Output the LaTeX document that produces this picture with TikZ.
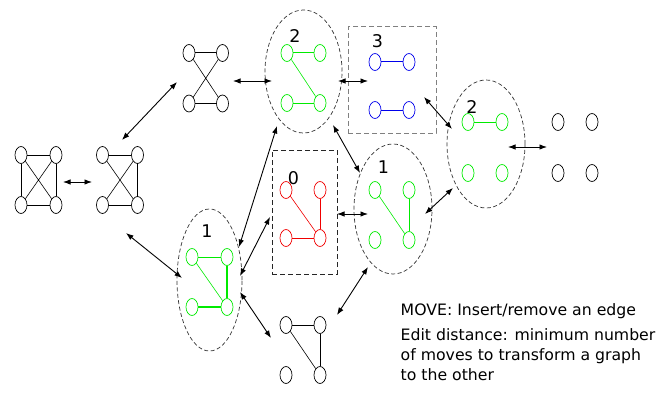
\documentclass[tikz,border=0pt]{standalone}
\usepackage{fontspec}
\setmainfont{DejaVu Sans}
\usetikzlibrary{shapes.geometric,arrows.meta}
\definecolor{vgreen}{RGB}{0,235,0}
\definecolor{vred}{RGB}{240,0,0}
\definecolor{vblue}{RGB}{0,0,235}
\begin{document}
\begin{tikzpicture}[x=1pt,y=-1pt,
  vtx/.style={ellipse,draw,line width=0.7pt,minimum width=12pt,minimum height=17pt,inner sep=0pt},
  gv/.style={vtx,draw=vgreen},
  rv/.style={vtx,draw=vred},
  bv/.style={vtx,draw=vblue},
  edge/.style={line width=1pt},
  thin edge/.style={line width=0.6pt},
  thick edge/.style={line width=2pt},
  grpell/.style={ellipse,draw=black!80,dashed,dash pattern=on 4pt off 2.5pt,line width=0.7pt,inner sep=0pt},
  grpbox/.style={rectangle,draw,dash pattern=on 5pt off 3pt,line width=1pt,inner sep=0pt},
  lbl/.style={inner sep=0pt,font=\fontsize{17.5}{20}\selectfont},
  txt/.style={inner sep=0pt,font=\fontsize{15.7}{20}\selectfont},
  conn/.style={{Latex[length=7.5pt,width=5.5pt]}-{Latex[length=7.5pt,width=5.5pt]},line width=0.9pt}
]
\useasboundingbox (0,0) rectangle (664,396);

% group outlines
\node[grpell,minimum width=77pt,minimum height=123pt] (D) at (303.5,71.5) {};
\node[grpbox,draw=black!50,minimum width=88pt,minimum height=106pt] (E) at (392,80) {};
\node[grpell,minimum width=78pt,minimum height=128pt] (F) at (486,144) {};
\node[grpbox,draw=black!85,minimum width=65pt,minimum height=124pt] (H) at (304.5,212) {};
\node[grpell,minimum width=78pt,minimum height=130pt] (I) at (393,209) {};
\node[grpell,minimum width=65pt,minimum height=142pt] (J) at (209.5,280) {};

% labels
\node[lbl] (Dl) at (295,36) {2};
\node[lbl] (El) at (377.5,41.5) {3};
\node[lbl] (Fl) at (472,107.5) {2};
\node[lbl] (Hl) at (293.5,178) {0};
\node[lbl] (Il) at (383.5,167.5) {1};
\node[lbl] (Jl) at (207,231) {1};

% graph A
\node[vtx] (a1) at (21,155) {};
\node[vtx] (a2) at (56,155) {};
\node[vtx] (a3) at (21,205) {};
\node[vtx] (a4) at (56,205) {};
\draw[edge] (a1)--(a2) (a3)--(a4) (a1)--(a3) (a2)--(a4);
\draw[thin edge] (a1)--(a4) (a2)--(a3);

% graph B
\node[vtx] (b1) at (102.5,155) {};
\node[vtx] (b2) at (137.5,155) {};
\node[vtx] (b3) at (102.5,205) {};
\node[vtx] (b4) at (137.5,205) {};
\draw[edge] (b1)--(b2) (b3)--(b4) (b2)--(b4);
\draw[thin edge] (b1)--(b4) (b2)--(b3);

% graph C
\node[vtx] (c1) at (189,53) {};
\node[vtx] (c2) at (222.5,53) {};
\node[vtx] (c3) at (189,103.5) {};
\node[vtx] (c4) at (222.5,103.5) {};
\draw[edge] (c1)--(c2) (c3)--(c4);
\draw[thin edge] (c1)--(c4) (c2)--(c3);

% graph D (green)
\node[gv] (d1) at (287,53) {};
\node[gv] (d2) at (320,53) {};
\node[gv] (d3) at (287,103) {};
\node[gv] (d4) at (320,103) {};
\draw[edge,vgreen] (d1)--(d2) (d3)--(d4);
\draw[thin edge,vgreen] (d1)--(d4);

% graph E (blue)
\node[bv] (e1) at (375,62) {};
\node[bv] (e2) at (409,62) {};
\node[bv] (e3) at (375,110) {};
\node[bv] (e4) at (409,110) {};
\draw[edge,vblue] (e1)--(e2) (e3)--(e4);

% graph F (green)
\node[gv] (f1) at (468,122) {};
\node[gv] (f2) at (502,122) {};
\node[gv] (f3) at (468,173) {};
\node[gv] (f4) at (502,173) {};
\draw[edge,vgreen] (f1)--(f2);

% graph G (empty)
\node[vtx] (g1) at (558,122) {};
\node[vtx] (g2) at (592,122) {};
\node[vtx] (g3) at (558,173) {};
\node[vtx] (g4) at (592,173) {};

% graph H (red)
\node[rv] (h1) at (286,190) {};
\node[rv] (h2) at (320,190) {};
\node[rv] (h3) at (286,238) {};
\node[rv] (h4) at (320,238) {};
\draw[thin edge,vred] (h1)--(h4);
\draw[edge,vred] (h2)--(h4) (h3)--(h4);

% graph I (green)
\node[gv] (i1) at (375,190) {};
\node[gv] (i2) at (409,190) {};
\node[gv] (i3) at (375,240) {};
\node[gv] (i4) at (409,240) {};
\draw[thin edge,vgreen] (i1)--(i4);
\draw[edge,vgreen] (i2)--(i4);

% graph J (green)
\node[gv] (j1) at (192,257) {};
\node[gv] (j2) at (227,257) {};
\node[gv] (j3) at (192,307) {};
\node[gv] (j4) at (227,307) {};
\draw[edge,vgreen] (j1)--(j2);
\draw[thin edge,vgreen] (j1)--(j4);
\draw[thick edge,vgreen] (j2)--(j4) (j3)--(j4);

% graph K
\node[vtx] (k1) at (286,325) {};
\node[vtx] (k2) at (320,325) {};
\node[vtx] (k3) at (286,375) {};
\node[vtx] (k4) at (320,375) {};
\draw[edge] (k1)--(k2) (k2)--(k4);
\draw[thin edge] (k1)--(k4);

% connector ends
\coordinate (A-e) at (63,182);
\coordinate (B-w) at (92,182);
\coordinate (B-n) at (122,140);
\coordinate (C-w) at (177,82);
\coordinate (C-e) at (233,81);
\coordinate (D-w) at (272,81);
\coordinate (D-e) at (338,81);
\coordinate (E-w) at (368,81);
\coordinate (E-se) at (424,97);
\coordinate (F-nw) at (452,129);
\coordinate (F-e) at (508,147);
\coordinate (G-w) at (547,147);
\coordinate (B-s) at (126,233);
\coordinate (J-w) at (182,278);
\coordinate (J-ne) at (239,247);
\coordinate (D-sw) at (277,126);
\coordinate (J-e) at (240,276);
\coordinate (H-w) at (270,217);
\coordinate (J-se) at (240,292);
\coordinate (K-nw) at (271,338);
\coordinate (D-se) at (333,125);
\coordinate (I-nw) at (360,173);
\coordinate (H-e) at (337,214);
\coordinate (I-w) at (368,214);
\coordinate (I-e) at (425,214);
\coordinate (F-sw) at (453,188);
\coordinate (K-ne) at (337,315);
\coordinate (I-sw) at (368,267);

\draw[conn] (A-e)--(B-w);
\draw[conn] (B-n)--(C-w);
\draw[conn] (C-e)--(D-w);
\draw[conn] (D-e)--(E-w);
\draw[conn] (E-se)--(F-nw);
\draw[conn] (F-e)--(G-w);
\draw[conn] (B-s)--(J-w);
\draw[conn] (J-ne)--(D-sw);
\draw[conn] (J-e)--(H-w);
\draw[conn] (J-se)--(K-nw);
\draw[conn] (D-se)--(I-nw);
\draw[conn] (H-e)--(I-w);
\draw[conn] (I-e)--(F-sw);
\draw[conn] (K-ne)--(I-sw);

% text
\node[txt,anchor=base west] (move) at (400.5,315) {MOVE: Insert/remove an edge};
\node[txt,anchor=base west,align=left] (edit) at (400.5,380.5) {Edit distance: minimum number\\of moves to transform a graph\\to the other};
\end{tikzpicture}
\end{document}
